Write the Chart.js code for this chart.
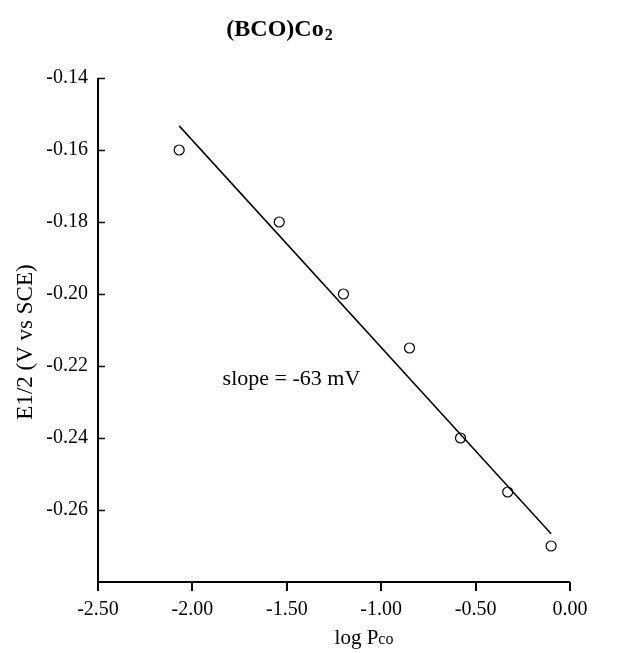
<!DOCTYPE html>
<html>
<head>
<meta charset="utf-8">
<script src="https://cdn.jsdelivr.net/npm/chart.js@4.4.1/dist/chart.umd.min.js"></script>
<style>
  html, body { margin: 0; padding: 0; background: #fff; }
  #wrap { width: 629px; height: 653px; position: relative; }
</style>
</head>
<body>
<div id="wrap"><canvas id="c" width="629" height="653"></canvas></div>
<script>
// Measured data (log Pco vs E1/2)
const logPco = [-2.07, -1.54, -1.20, -0.85, -0.58, -0.33, -0.10];
const e12 = [-0.160, -0.180, -0.200, -0.215, -0.240, -0.255, -0.270];
// Fit line end points
const fitX = [-2.07, -0.10];
const fitY = [-0.1533, -0.2666];
// Axis ticks
const xTicks = [-2.5, -2.0, -1.5, -1.0, -0.5, 0.0];
const yTicks = [-0.14, -0.16, -0.18, -0.20, -0.22, -0.24, -0.26];
const annotationText = 'slope = -63 mV';

const SERIF = '"Liberation Serif", "DejaVu Serif", serif';

const pts = logPco.map((x, i) => ({x, y: e12[i]}));
const fit = fitX.map((x, i) => ({x, y: fitY[i]}));

const decor = {
  id: 'decor',
  afterDraw(chart) {
    const ctx = chart.ctx;
    const xs = chart.scales.x, ys = chart.scales.y;
    const area = chart.chartArea;
    ctx.save();
    ctx.strokeStyle = '#000';
    ctx.fillStyle = '#000';
    ctx.lineWidth = 1.5;
    // inward y ticks
    yTicks.forEach(v => {
      const py = Math.round(ys.getPixelForValue(v)) + 0.5;
      ctx.beginPath();
      ctx.moveTo(area.left, py);
      ctx.lineTo(area.left + 7, py);
      ctx.stroke();
    });
    // axis lines
    ctx.lineWidth = 2;
    ctx.beginPath();
    ctx.moveTo(area.left, ys.getPixelForValue(-0.14));
    ctx.lineTo(area.left, area.bottom + 9);
    ctx.moveTo(area.left, area.bottom);
    ctx.lineTo(xs.getPixelForValue(0), area.bottom);
    ctx.stroke();
    // outward x ticks
    xTicks.forEach(v => {
      const px = Math.round(xs.getPixelForValue(v));
      ctx.beginPath();
      ctx.moveTo(px, area.bottom);
      ctx.lineTo(px, area.bottom + 9);
      ctx.stroke();
    });
    // title
    ctx.textBaseline = 'alphabetic';
    ctx.textAlign = 'left';
    ctx.font = 'bold 24px ' + SERIF;
    const t1 = '(BCO)Co';
    const w1 = ctx.measureText(t1).width;
    ctx.font = 'bold 16px ' + SERIF;
    const w2 = ctx.measureText('2').width;
    let tx = 279 - (w1 + w2) / 2;
    ctx.font = 'bold 24px ' + SERIF;
    ctx.fillText(t1, tx, 36);
    ctx.font = 'bold 16px ' + SERIF;
    ctx.fillText('2', tx + w1 + 1, 40);
    // x title
    ctx.font = '21px ' + SERIF;
    const a1 = 'log P';
    const aw1 = ctx.measureText(a1).width;
    ctx.font = '16px ' + SERIF;
    const aw2 = ctx.measureText('co').width;
    let ax = 364 - (aw1 + aw2) / 2;
    ctx.font = '21px ' + SERIF;
    ctx.fillText(a1, ax, 644);
    ctx.font = '16px ' + SERIF;
    ctx.fillText('co', ax + aw1, 644);
    // y title
    ctx.save();
    ctx.translate(32, 342);
    ctx.rotate(-Math.PI / 2);
    ctx.textAlign = 'center';
    ctx.textBaseline = 'alphabetic';
    ctx.font = '23px ' + SERIF;
    ctx.fillText('E1/2 (V vs SCE)', 0, 0);
    ctx.restore();
    // annotation
    ctx.font = '22px ' + SERIF;
    ctx.textAlign = 'left';
    ctx.textBaseline = 'middle';
    ctx.fillText(annotationText, xs.getPixelForValue(-1.84), ys.getPixelForValue(-0.2236));
    ctx.restore();
  }
};

new Chart(document.getElementById('c'), {
  type: 'scatter',
  data: {
    datasets: [
      {
        data: fit,
        showLine: true,
        borderColor: '#000',
        borderWidth: 1.5,
        pointRadius: 0,
        fill: false
      },
      {
        data: pts,
        showLine: false,
        pointStyle: 'circle',
        pointRadius: 5,
        pointBorderWidth: 1.2,
        pointBorderColor: '#000',
        pointBackgroundColor: '#fff'
      }
    ]
  },
  options: {
    responsive: false,
    animation: false,
    events: [],
    layout: { padding: { left: 0, right: 59, top: 78, bottom: 0 } },
    plugins: { legend: { display: false }, tooltip: { enabled: false }, title: { display: false } },
    scales: {
      x: {
        type: 'linear',
        min: -2.5, max: 0,
        afterFit(s) { s.height = 71; },
        afterBuildTicks(s) { s.ticks = xTicks.map(v => ({value: v})); },
        border: { display: false },
        grid: { display: false, drawOnChartArea: false },
        ticks: {
          color: '#000',
          padding: 8,
          font: { family: SERIF, size: 20 },
          callback: v => v.toFixed(2)
        }
      },
      y: {
        type: 'linear',
        min: -0.28, max: -0.14,
        afterFit(s) { s.width = 98; },
        afterBuildTicks(s) { s.ticks = yTicks.map(v => ({value: v})); },
        border: { display: false },
        grid: { display: false },
        ticks: {
          color: '#000',
          padding: 2,
          font: { family: SERIF, size: 20 },
          callback: v => v.toFixed(2)
        }
      }
    }
  },
  plugins: [decor]
});
</script>
</body>
</html>
